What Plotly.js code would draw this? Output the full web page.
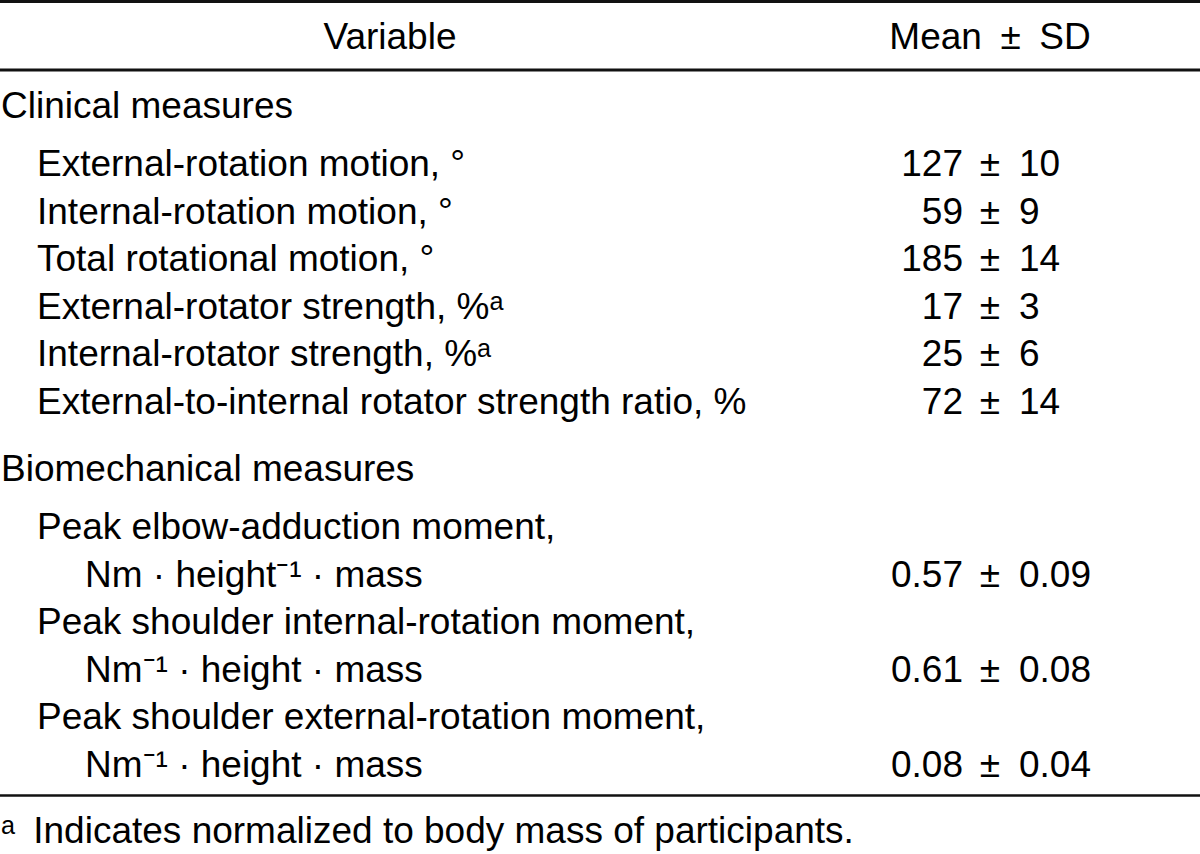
<html lang="en">
  <head>
    <meta charset="UTF-8" />
    <title>Clinical and biomechanical measures</title>
    <script src="https://cdn.jsdelivr.net/npm/plotly.js-dist-min/plotly.min.js"></script>
    <style>
      body { margin: 0; background: #fff; }
    </style>
  </head>
  <body>
    <div id="table-plot" style="width: 1200px; height: 854px"></div>
    <script>
      // table content
      const headers = ["Variable", "Mean\u2002±\u2002SD"];
      const sections = ["Clinical measures", "Biomechanical measures"];

      const clinicalLabels = [
        "External-rotation motion, °",
        "Internal-rotation motion, °",
        "Total rotational motion, °",
        "External-rotator strength, %ᵃ",
        "Internal-rotator strength, %ᵃ",
        "External-to-internal rotator strength ratio, %",
      ];
      const clinicalMeans = ["127", "59", "185", "17", "25", "72"];
      const clinicalSDs = ["10", "9", "14", "3", "6", "14"];

      const biomechLabels = [
        "Peak elbow-adduction moment,",
        "Peak shoulder internal-rotation moment,",
        "Peak shoulder external-rotation moment,",
      ];
      const biomechUnits = [
        "Nm · height⁻¹ · mass",
        "Nm⁻¹ · height · mass",
        "Nm⁻¹ · height · mass",
      ];
      const biomechMeans = ["0.57", "0.61", "0.08"];
      const biomechSDs = ["0.09", "0.08", "0.04"];

      const footnote = "ᵃ\u2002Indicates normalized to body mass of participants.";

      // layout constants (pixels, axes are mapped 1:1 to the page)
      const W = 1200, H = 854;
      const ROW = 47.5;
      const FONT = "Liberation Sans, Arial, Helvetica, sans-serif";
      const SIZE = 37;
      const MID = 10; // baseline -> text middle
      const xSection = 1, xItem = 37, xCont = 85;
      const xMean = 963, xPm = 990, xSD = 1019;

      // walk the rows and collect text positions
      const labelX = [], labelY = [], labelT = [];
      const valY = [], valMean = [], valSD = [];

      function addLabel(x, base, t) {
        labelX.push(x);
        labelY.push(base - MID);
        labelT.push(t);
      }

      let base = 119;
      addLabel(xSection, base, sections[0]);
      base += 58;
      clinicalLabels.forEach((lab, i) => {
        addLabel(xItem, base, lab);
        valY.push(base - MID);
        valMean.push(clinicalMeans[i]);
        valSD.push(clinicalSDs[i]);
        base += ROW;
      });
      base += 20;
      addLabel(xSection, base, sections[1]);
      base += 58;
      biomechLabels.forEach((lab, i) => {
        addLabel(xItem, base, lab);
        addLabel(xCont, base + ROW, biomechUnits[i]);
        valY.push(base + ROW - MID);
        valMean.push(biomechMeans[i]);
        valSD.push(biomechSDs[i]);
        base += 2 * ROW;
      });
      const bottomRule = base - ROW + 18;
      addLabel(xSection, bottomRule + 48, footnote);

      const textFont = { family: FONT, size: SIZE, color: "#000" };
      const common = { type: "scatter", mode: "text", hoverinfo: "skip", textfont: textFont };

      const data = [
        Object.assign({}, common, {
          x: [390, xPm],
          y: [50 - MID, 50 - MID],
          text: headers,
          textposition: "middle center",
        }),
        Object.assign({}, common, {
          x: labelX,
          y: labelY,
          text: labelT,
          textposition: "middle right",
        }),
        Object.assign({}, common, {
          x: valY.map(() => xMean),
          y: valY,
          text: valMean,
          textposition: "middle left",
        }),
        Object.assign({}, common, {
          x: valY.map(() => xPm),
          y: valY,
          text: valY.map(() => "±"),
          textposition: "middle center",
        }),
        Object.assign({}, common, {
          x: valY.map(() => xSD),
          y: valY,
          text: valSD,
          textposition: "middle right",
        }),
      ];

      const rule = (y, w) => ({
        type: "line", xref: "x", yref: "y",
        x0: 0, x1: W, y0: y, y1: y,
        line: { color: "#111", width: w },
      });

      const layout = {
        width: W,
        height: H,
        margin: { l: 0, r: 0, t: 0, b: 0 },
        paper_bgcolor: "#fff",
        plot_bgcolor: "#fff",
        showlegend: false,
        xaxis: { range: [0, W], visible: false, fixedrange: true },
        yaxis: { range: [H, 0], visible: false, fixedrange: true },
        shapes: [rule(1.5, 3), rule(70, 3), rule(bottomRule, 2.5)],
      };

      Plotly.newPlot("table-plot", data, layout, { displayModeBar: false, staticPlot: true });
    </script>
  </body>
</html>
